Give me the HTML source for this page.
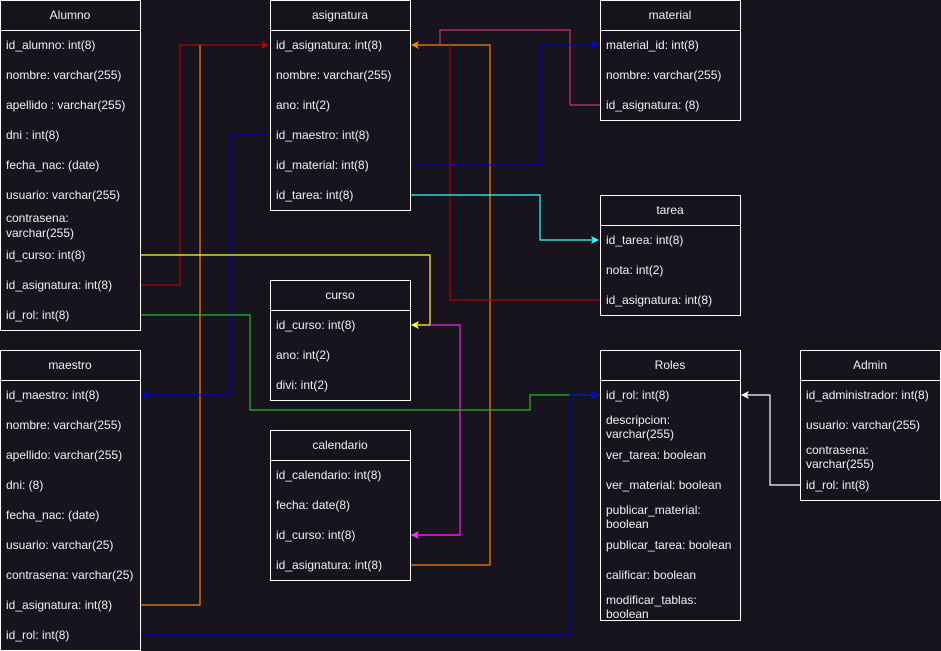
<!DOCTYPE html>
<html><head><meta charset="utf-8"><style>
html,body{margin:0;padding:0;background:#18141d;}
svg{display:block;}
text{font-family:"Liberation Sans",Arial,sans-serif;font-size:12px;fill:#f0f0f0;}
.h{text-anchor:middle;}
rect{fill:#18141d;stroke:#ffffff;stroke-width:1;}
.sep{stroke:#ffffff;stroke-width:1;}
.c{fill:none;stroke-width:1.2;}
</style></head><body>
<svg width="941" height="651" viewBox="0 0 941 651" xmlns="http://www.w3.org/2000/svg">
<defs>
<marker id="aR" markerWidth="8" markerHeight="8" refX="7" refY="4" orient="auto" markerUnits="userSpaceOnUse"><path d="M0,0 L8,4 L0,8 L2,4 Z" fill="#c00000"/></marker>
<marker id="aO" markerWidth="8" markerHeight="8" refX="7" refY="4" orient="auto" markerUnits="userSpaceOnUse"><path d="M0,0 L8,4 L0,8 L2,4 Z" fill="#ff8000"/></marker>
<marker id="aB" markerWidth="8" markerHeight="8" refX="7" refY="4" orient="auto" markerUnits="userSpaceOnUse"><path d="M0,0 L8,4 L0,8 L2,4 Z" fill="#0000ee"/></marker>
<marker id="aC" markerWidth="8" markerHeight="8" refX="7" refY="4" orient="auto" markerUnits="userSpaceOnUse"><path d="M0,0 L8,4 L0,8 L2,4 Z" fill="#33ffff"/></marker>
<marker id="aY" markerWidth="8" markerHeight="8" refX="7" refY="4" orient="auto" markerUnits="userSpaceOnUse"><path d="M0,0 L8,4 L0,8 L2,4 Z" fill="#ffff33"/></marker>
<marker id="aM" markerWidth="8" markerHeight="8" refX="7" refY="4" orient="auto" markerUnits="userSpaceOnUse"><path d="M0,0 L8,4 L0,8 L2,4 Z" fill="#ff33ff"/></marker>
<marker id="aG" markerWidth="8" markerHeight="8" refX="7" refY="4" orient="auto" markerUnits="userSpaceOnUse"><path d="M0,0 L8,4 L0,8 L2,4 Z" fill="#22bb22"/></marker>
<marker id="aW" markerWidth="8" markerHeight="8" refX="7" refY="4" orient="auto" markerUnits="userSpaceOnUse"><path d="M0,0 L8,4 L0,8 L2,4 Z" fill="#ffffff"/></marker>
</defs>

<!-- connectors -->
<path class="c" stroke="#b00000" d="M140,285 H180 V45 H268" marker-end="url(#aR)"/>
<path class="c" stroke="#ff8000" d="M140,605 H200 V45"/>
<path class="c" stroke="#ff8000" d="M410,565 H490 V45 H412" marker-end="url(#aO)"/>
<path class="c" stroke="#cc3377" d="M600,105 H570 V30 H440 V45"/>
<path class="c" stroke="#b00000" d="M600,300 H450 V45"/>
<path class="c" stroke="#0000cc" d="M410,165 H540 V45 H598" marker-end="url(#aB)"/>
<path class="c" stroke="#0000cc" d="M270,135 H230 V395 H142" marker-end="url(#aB)"/>
<path class="c" stroke="#33ffff" d="M410,195 H540 V240 H598" marker-end="url(#aC)"/>
<path class="c" stroke="#ffff33" d="M140,255 H430 V325 H412" marker-end="url(#aY)"/>
<path class="c" stroke="#ee22ee" d="M410,535 H460 V325 H430"/>
<path class="c" stroke="#ee22ee" d="M460,535 H412" marker-end="url(#aM)"/>
<path class="c" stroke="#22bb22" d="M140,315 H250 V410 H530 V395 H598" marker-end="url(#aG)"/>
<path class="c" stroke="#0000cc" d="M140,635 H570 V395 H598" marker-end="url(#aB)"/>
<path class="c" stroke="#ffffff" d="M800,485 H770 V395 H742" marker-end="url(#aW)"/>

<!-- Alumno -->
<rect x="0.5" y="0.5" width="140" height="330"/><line class="sep" x1="0" y1="30.5" x2="140" y2="30.5"/>
<text class="h" x="70" y="19">Alumno</text>
<text x="6" y="49">id_alumno: int(8)</text>
<text x="6" y="79">nombre: varchar(255)</text>
<text x="6" y="109">apellido : varchar(255)</text>
<text x="6" y="139">dni : int(8)</text>
<text x="6" y="169">fecha_nac: (date)</text>
<text x="6" y="199">usuario: varchar(255)</text>
<text x="6" y="222">contrasena:</text><text x="6" y="237">varchar(255)</text>
<text x="6" y="259">id_curso: int(8)</text>
<text x="6" y="289">id_asignatura: int(8)</text>
<text x="6" y="319">id_rol: int(8)</text>

<!-- asignatura -->
<rect x="270.5" y="0.5" width="140" height="210"/><line class="sep" x1="270" y1="30.5" x2="410" y2="30.5"/>
<text class="h" x="340" y="19">asignatura</text>
<text x="276" y="49">id_asignatura: int(8)</text>
<text x="276" y="79">nombre: varchar(255)</text>
<text x="276" y="109">ano: int(2)</text>
<text x="276" y="139">id_maestro: int(8)</text>
<text x="276" y="169">id_material: int(8)</text>
<text x="276" y="199">id_tarea: int(8)</text>

<!-- material -->
<rect x="600.5" y="0.5" width="140" height="120"/><line class="sep" x1="600" y1="30.5" x2="740" y2="30.5"/>
<text class="h" x="670" y="19">material</text>
<text x="606" y="49">material_id: int(8)</text>
<text x="606" y="79">nombre: varchar(255)</text>
<text x="606" y="109">id_asignatura: (8)</text>

<!-- tarea -->
<rect x="600.5" y="195.5" width="140" height="120"/><line class="sep" x1="600" y1="225.5" x2="740" y2="225.5"/>
<text class="h" x="670" y="214">tarea</text>
<text x="606" y="244">id_tarea: int(8)</text>
<text x="606" y="274">nota: int(2)</text>
<text x="606" y="304">id_asignatura: int(8)</text>

<!-- curso -->
<rect x="270.5" y="280.5" width="140" height="120"/><line class="sep" x1="270" y1="310.5" x2="410" y2="310.5"/>
<text class="h" x="340" y="299">curso</text>
<text x="276" y="329">id_curso: int(8)</text>
<text x="276" y="359">ano: int(2)</text>
<text x="276" y="389">divi: int(2)</text>

<!-- calendario -->
<rect x="270.5" y="430.5" width="140" height="150"/><line class="sep" x1="270" y1="460.5" x2="410" y2="460.5"/>
<text class="h" x="340" y="449">calendario</text>
<text x="276" y="479">id_calendario: int(8)</text>
<text x="276" y="509">fecha: date(8)</text>
<text x="276" y="539">id_curso: int(8)</text>
<text x="276" y="569">id_asignatura: int(8)</text>

<!-- maestro -->
<rect x="0.5" y="350.5" width="140" height="300"/><line class="sep" x1="0" y1="380.5" x2="140" y2="380.5"/>
<text class="h" x="70" y="369">maestro</text>
<text x="6" y="399">id_maestro: int(8)</text>
<text x="6" y="429">nombre: varchar(255)</text>
<text x="6" y="459">apellido: varchar(255)</text>
<text x="6" y="489">dni: (8)</text>
<text x="6" y="519">fecha_nac: (date)</text>
<text x="6" y="549">usuario: varchar(25)</text>
<text x="6" y="579">contrasena: varchar(25)</text>
<text x="6" y="609">id_asignatura: int(8)</text>
<text x="6" y="639">id_rol: int(8)</text>

<!-- Roles -->
<rect x="600.5" y="350.5" width="140" height="270"/><line class="sep" x1="600" y1="380.5" x2="740" y2="380.5"/>
<text class="h" x="670" y="369">Roles</text>
<text x="606" y="399">id_rol: int(8)</text>
<text x="606" y="424">descripcion:</text><text x="606" y="438">varchar(255)</text>
<text x="606" y="459">ver_tarea: boolean</text>
<text x="606" y="489">ver_material: boolean</text>
<text x="606" y="514">publicar_material:</text><text x="606" y="528">boolean</text>
<text x="606" y="549">publicar_tarea: boolean</text>
<text x="606" y="579">calificar: boolean</text>
<text x="606" y="604">modificar_tablas:</text><text x="606" y="618">boolean</text>

<!-- Admin -->
<rect x="800.5" y="350.5" width="140" height="150"/><line class="sep" x1="800" y1="380.5" x2="940" y2="380.5"/>
<text class="h" x="870" y="369">Admin</text>
<text x="806" y="399">id_administrador: int(8)</text>
<text x="806" y="429">usuario: varchar(255)</text>
<text x="806" y="454">contrasena:</text><text x="806" y="468">varchar(255)</text>
<text x="806" y="489">id_rol: int(8)</text>
</svg>
</body></html>
